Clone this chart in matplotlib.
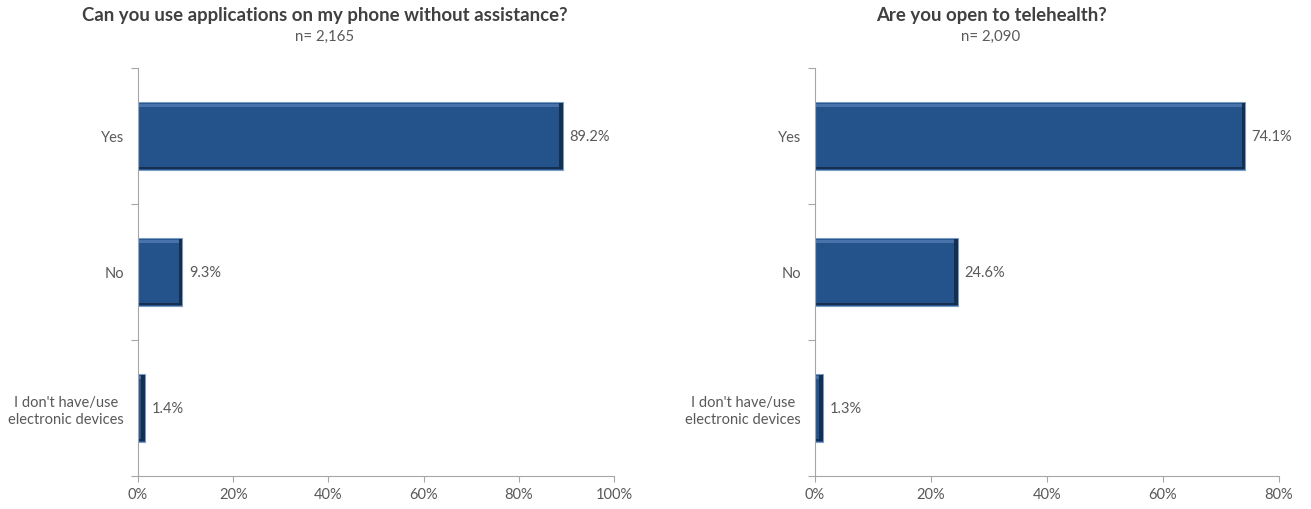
import matplotlib
matplotlib.use('Agg')
import matplotlib.pyplot as plt
from matplotlib.ticker import FixedLocator, PercentFormatter

plt.rcParams.update({
    'font.family': ['Lato', 'DejaVu Sans'],
    'font.size': 10.5,
    'axes.unicode_minus': False,
})

categories = ['Yes', 'No', "I don't have/use\nelectronic devices"]

title_left = 'Can you use applications on my phone without assistance?'
n_left = 'n= 2,165'
values_left = [89.2, 9.3, 1.4]
xticks_left = [0, 20, 40, 60, 80, 100]

title_right = 'Are you open to telehealth?'
n_right = 'n= 2,090'
values_right = [74.1, 24.6, 1.3]
xticks_right = [0, 20, 40, 60, 80]

BAR = '#24528A'
EDGE = '#7C9CC8'
DARK = '#152F50'
HILITE = '#4773AA'
TXT = '#595959'
AXC = '#A6A6A6'

W, H = 1311, 510
fig = plt.figure(figsize=(W / 100, H / 100), dpi=100)


def panel(rect, vals, xticks, title, ntext, title_x):
    ax = fig.add_axes(rect)
    y = list(range(len(categories)))
    xmax = xticks[-1]
    ax.barh(y, vals, height=0.5, color=BAR, edgecolor=EDGE, linewidth=0.8)
    # bevel: light strip near the top, dark strip on the right and bottom
    ax.barh([i - 0.225 for i in y], vals, height=0.025, color=HILITE, linewidth=0)
    rw = 0.007 * xmax
    ax.barh(y, [rw] * len(vals), left=[v - rw for v in vals], height=0.49,
            color=DARK, linewidth=0)
    ax.barh([i + 0.235 for i in y], vals, height=0.02, color=DARK, linewidth=0)
    for yi, v in zip(y, vals):
        ax.annotate(f'{v:.1f}%', (v, yi), xytext=(5, 0), textcoords='offset points',
                    va='center', ha='left', color=TXT, fontsize=10.5)
    ax.set_xlim(xticks[0], xmax)
    ax.set_ylim(2.5, -0.5)
    ax.set_xticks(xticks)
    ax.xaxis.set_major_formatter(PercentFormatter(decimals=0))
    ax.yaxis.set_major_locator(FixedLocator([-0.5, 0.5, 1.5, 2.5]))
    ax.set_yticklabels([])
    ax.set_yticks(y, minor=True)
    ax.set_yticklabels(categories, minor=True)
    ax.tick_params(axis='y', which='minor', length=0, pad=10, labelcolor=TXT, labelsize=10.5)
    ax.tick_params(axis='y', which='major', length=5, color=AXC, direction='out')
    ax.tick_params(axis='x', length=4, color=AXC, labelcolor=TXT, labelsize=10.5, pad=4)
    for lab in ax.get_yticklabels(minor=True):
        lab.set_multialignment('center')
    for s in ['top', 'right']:
        ax.spines[s].set_visible(False)
    for s in ['left', 'bottom']:
        ax.spines[s].set_color(AXC)
    fig.text(title_x, 1 - 16 / H, title, ha='center', va='center', fontsize=13.4,
             fontweight='bold', color='#404040')
    fig.text(title_x, 1 - 37 / H, ntext, ha='center', va='center', fontsize=10.8, color=TXT)
    return ax


panel([138 / W, 33 / H, 476 / W, 408 / H], values_left, xticks_left,
      title_left, n_left, 325 / W)
panel([815 / W, 33 / H, 464 / W, 408 / H], values_right, xticks_right,
      title_right, n_right, 991 / W)

fig.savefig('out.png', dpi=100)
